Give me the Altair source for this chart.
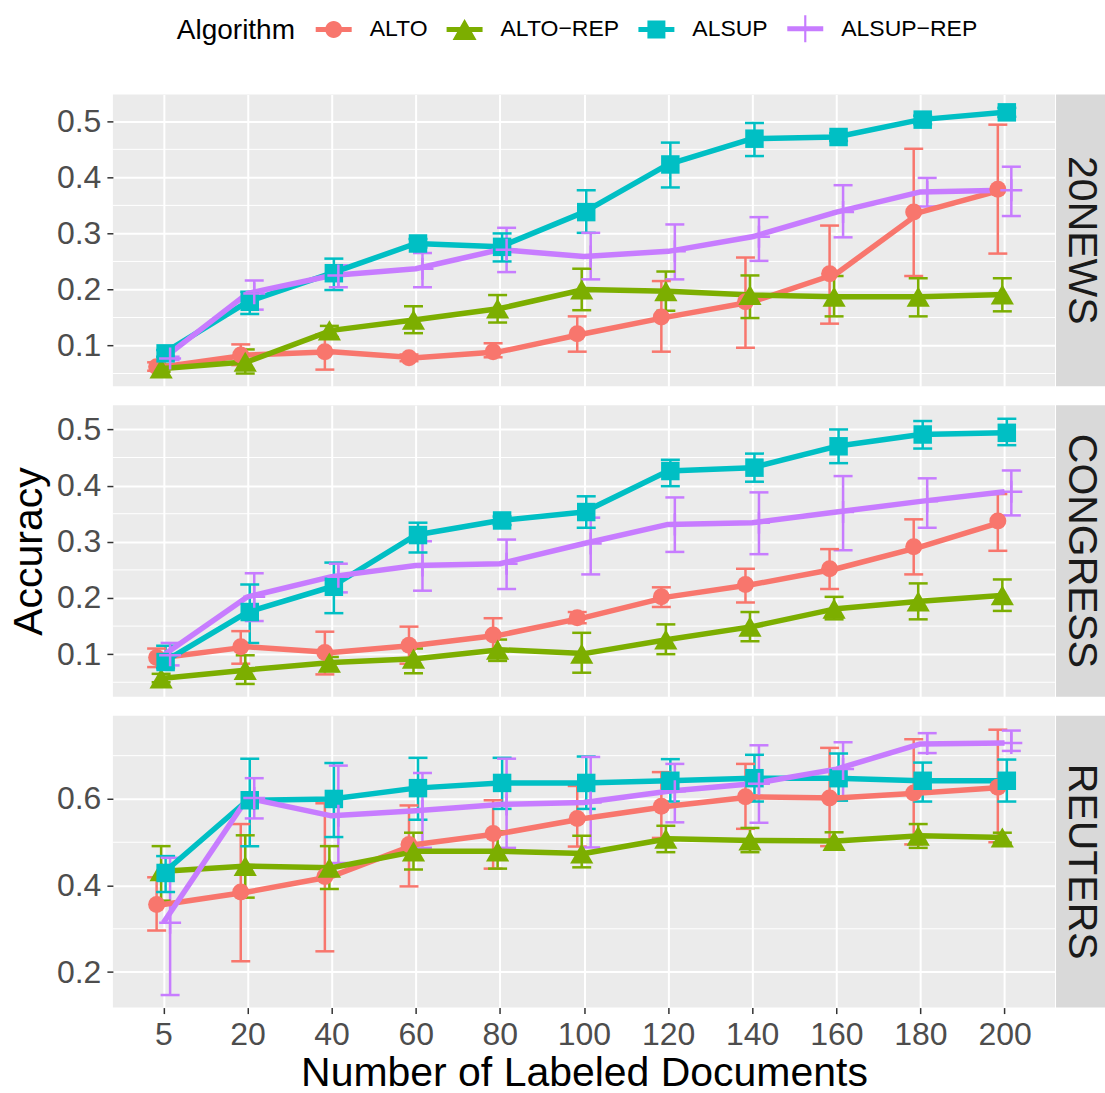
import altair as alt
import pandas as pd

# ---------------- data ----------------
N_DOCS = [5, 20, 40, 60, 80, 100, 120, 140, 160, 180, 200]
ALGOS = ["ALTO", "ALTO\u2212REP", "ALSUP", "ALSUP\u2212REP"]
COLORS = ["#F8766D", "#7CAE00", "#00BFC4", "#C77CFF"]
PANELS = ["20NEWS", "CONGRESS", "REUTERS"]

# 20NEWS
NEWS_ALTO = [0.062, 0.083, 0.089, 0.078, 0.089, 0.121, 0.151, 0.178, 0.228, 0.338, 0.379]
NEWS_ALTO_LO = [0.055, 0.065, 0.057, 0.072, 0.079, 0.089, 0.089, 0.096, 0.139, 0.224, 0.264]
NEWS_ALTO_HI = [0.070, 0.102, 0.120, 0.084, 0.104, 0.152, 0.215, 0.257, 0.314, 0.451, 0.494]
NEWS_ALTOREP = [0.059, 0.071, 0.127, 0.146, 0.166, 0.200, 0.197, 0.190, 0.187, 0.187, 0.191]
NEWS_ALTOREP_LO = [0.053, 0.050, 0.115, 0.122, 0.141, 0.163, 0.162, 0.149, 0.152, 0.152, 0.161]
NEWS_ALTOREP_HI = [0.066, 0.093, 0.135, 0.170, 0.190, 0.237, 0.232, 0.225, 0.224, 0.220, 0.220]
NEWS_ALSUP = [0.086, 0.178, 0.229, 0.282, 0.276, 0.338, 0.423, 0.469, 0.472, 0.503, 0.516]
NEWS_ALSUP_LO = [0.080, 0.156, 0.199, 0.275, 0.250, 0.301, 0.382, 0.438, 0.465, 0.495, 0.508]
NEWS_ALSUP_HI = [0.092, 0.196, 0.255, 0.290, 0.300, 0.377, 0.462, 0.497, 0.479, 0.510, 0.524]
NEWS_ALSUPREP = [0.077, 0.193, 0.225, 0.237, 0.271, 0.259, 0.268, 0.294, 0.338, 0.374, 0.377]
NEWS_ALSUPREP_LO = [0.074, 0.164, 0.204, 0.204, 0.231, 0.218, 0.218, 0.251, 0.293, 0.348, 0.331]
NEWS_ALSUPREP_HI = [0.080, 0.216, 0.243, 0.265, 0.310, 0.301, 0.316, 0.329, 0.386, 0.399, 0.419]

# CONGRESS
CONG_ALTO = [0.094, 0.113, 0.103, 0.116, 0.134, 0.165, 0.202, 0.224, 0.252, 0.291, 0.337]
CONG_ALTO_LO = [0.077, 0.083, 0.064, 0.083, 0.107, 0.155, 0.184, 0.192, 0.216, 0.242, 0.284]
CONG_ALTO_HI = [0.110, 0.141, 0.140, 0.149, 0.164, 0.175, 0.219, 0.252, 0.287, 0.340, 0.385]
CONG_ALTOREP = [0.057, 0.072, 0.085, 0.092, 0.108, 0.101, 0.126, 0.149, 0.181, 0.194, 0.205]
CONG_ALTOREP_LO = [0.050, 0.047, 0.070, 0.066, 0.088, 0.067, 0.100, 0.123, 0.162, 0.162, 0.177]
CONG_ALTOREP_HI = [0.065, 0.098, 0.095, 0.110, 0.126, 0.138, 0.153, 0.175, 0.202, 0.226, 0.233]
CONG_ALSUP = [0.086, 0.175, 0.220, 0.312, 0.338, 0.353, 0.426, 0.432, 0.470, 0.491, 0.494]
CONG_ALSUP_LO = [0.075, 0.120, 0.173, 0.281, 0.330, 0.325, 0.399, 0.407, 0.440, 0.466, 0.472]
CONG_ALSUP_HI = [0.115, 0.224, 0.263, 0.334, 0.345, 0.381, 0.446, 0.457, 0.500, 0.515, 0.519]
CONG_ALSUPREP = [0.098, 0.202, 0.238, 0.258, 0.261, 0.297, 0.331, 0.334, 0.353, 0.372, 0.389]
CONG_ALSUPREP_LO = [0.080, 0.159, 0.210, 0.213, 0.216, 0.242, 0.282, 0.278, 0.285, 0.325, 0.347]
CONG_ALSUPREP_HI = [0.120, 0.244, 0.261, 0.301, 0.304, 0.343, 0.379, 0.388, 0.417, 0.413, 0.427]

# REUTERS
REUT_ALTO = [0.356, 0.385, 0.421, 0.495, 0.520, 0.555, 0.583, 0.605, 0.602, 0.614, 0.627]
REUT_ALTO_LO = [0.296, 0.225, 0.248, 0.398, 0.439, 0.490, 0.510, 0.531, 0.491, 0.495, 0.500]
REUT_ALTO_HI = [0.419, 0.542, 0.590, 0.585, 0.597, 0.630, 0.662, 0.681, 0.718, 0.738, 0.760]
REUT_ALTOREP = [0.433, 0.445, 0.441, 0.479, 0.479, 0.474, 0.508, 0.504, 0.503, 0.515, 0.511]
REUT_ALTOREP_LO = [0.365, 0.372, 0.392, 0.437, 0.439, 0.442, 0.477, 0.477, 0.483, 0.487, 0.499]
REUT_ALTOREP_HI = [0.491, 0.516, 0.491, 0.522, 0.525, 0.515, 0.538, 0.533, 0.523, 0.542, 0.522]
REUT_ALSUP = [0.429, 0.597, 0.600, 0.625, 0.637, 0.637, 0.642, 0.648, 0.648, 0.642, 0.642]
REUT_ALSUP_LO = [0.385, 0.491, 0.512, 0.552, 0.577, 0.577, 0.594, 0.594, 0.596, 0.594, 0.594]
REUT_ALSUP_HI = [0.468, 0.693, 0.683, 0.695, 0.695, 0.698, 0.692, 0.702, 0.705, 0.684, 0.691]
REUT_ALSUPREP = [0.314, 0.602, 0.561, 0.573, 0.587, 0.592, 0.618, 0.635, 0.669, 0.727, 0.729]
REUT_ALSUPREP_LO = [0.147, 0.555, 0.452, 0.487, 0.487, 0.488, 0.546, 0.545, 0.605, 0.706, 0.711]
REUT_ALSUPREP_HI = [0.464, 0.648, 0.677, 0.660, 0.693, 0.697, 0.681, 0.724, 0.731, 0.752, 0.758]

SERIES = {
    "20NEWS": [
        (NEWS_ALTO, NEWS_ALTO_LO, NEWS_ALTO_HI),
        (NEWS_ALTOREP, NEWS_ALTOREP_LO, NEWS_ALTOREP_HI),
        (NEWS_ALSUP, NEWS_ALSUP_LO, NEWS_ALSUP_HI),
        (NEWS_ALSUPREP, NEWS_ALSUPREP_LO, NEWS_ALSUPREP_HI),
    ],
    "CONGRESS": [
        (CONG_ALTO, CONG_ALTO_LO, CONG_ALTO_HI),
        (CONG_ALTOREP, CONG_ALTOREP_LO, CONG_ALTOREP_HI),
        (CONG_ALSUP, CONG_ALSUP_LO, CONG_ALSUP_HI),
        (CONG_ALSUPREP, CONG_ALSUPREP_LO, CONG_ALSUPREP_HI),
    ],
    "REUTERS": [
        (REUT_ALTO, REUT_ALTO_LO, REUT_ALTO_HI),
        (REUT_ALTOREP, REUT_ALTOREP_LO, REUT_ALTOREP_HI),
        (REUT_ALSUP, REUT_ALSUP_LO, REUT_ALSUP_HI),
        (REUT_ALSUPREP, REUT_ALSUPREP_LO, REUT_ALSUPREP_HI),
    ],
}

Y_DOMAINS = {"20NEWS": [0.0275, 0.548], "CONGRESS": [0.024, 0.5433], "REUTERS": [0.118, 0.792]}
Y_TICKS = {"20NEWS": [0.1, 0.2, 0.3, 0.4, 0.5], "CONGRESS": [0.1, 0.2, 0.3, 0.4, 0.5],
           "REUTERS": [0.2, 0.4, 0.6]}
Y_MINOR = {"20NEWS": [0.05, 0.15, 0.25, 0.35, 0.45], "CONGRESS": [0.05, 0.15, 0.25, 0.35, 0.45],
           "REUTERS": [0.3, 0.5, 0.7]}

rows = []
for p in PANELS:
    for alg, (m, lo, hi) in zip(ALGOS, SERIES[p]):
        for n, a, b, c in zip(N_DOCS, m, lo, hi):
            rows.append({"panel": p, "alg": alg, "n": n, "mean": a, "lo": b, "hi": c})
df = pd.DataFrame(rows)

# ---------------- styling ----------------
FONT = "Liberation Sans"
W, H = 943, 292
BAR = "M-1,-0.14H1V0.14H-1Z "
LEGEND_SHAPES = [
    BAR + "M0.47,0A0.47,0.47 0 1,1 -0.47,0A0.47,0.47 0 1,1 0.47,0Z",
    BAR + "M0,-0.58L0.667,0.58L-0.667,0.58Z",
    BAR + "M-0.5,-0.5H0.5V0.5H-0.5Z",
    BAR + "M-0.06,-0.75H0.06V0.75H-0.06Z",
]
POINT_STYLE = [
    dict(shape="circle", size=289, filled=True),
    dict(shape="triangle-up", size=540, filled=True),
    dict(shape="square", size=342, filled=True),
    dict(shape="M-1,0H1M0,-1V1", size=484, filled=False, strokeWidth=2.5),
]

color_scale = alt.Scale(domain=ALGOS, range=COLORS)
off_scale = alt.Scale(type="point", domain=ALGOS, range=[-6.75, 6.75], padding=0)


def panel(name, bottom, middle, with_legend):
    d = df[df.panel == name]
    if bottom:
        x_axis = alt.Axis(values=N_DOCS, labelAngle=0, labelFontSize=32, labelColor="#4D4D4D",
                          labelFont=FONT, tickSize=6, tickWidth=1.5, tickColor="#333333",
                          labelPadding=6, domain=False, grid=True, gridColor="white",
                          gridWidth=2, title="Number of Labeled Documents", titleFontSize=41,
                          titleFont=FONT, titleFontWeight="normal", titleColor="black",
                          titlePadding=3)
    else:
        x_axis = alt.Axis(values=N_DOCS, labels=False, ticks=False, domain=False, grid=True,
                          gridColor="white", gridWidth=2, title=None)
    y_axis = alt.Axis(values=Y_TICKS[name], format=".1f", labelFontSize=32,
                      labelColor="#4D4D4D", labelFont=FONT, tickSize=6, tickWidth=1.5,
                      tickColor="#333333", labelPadding=6, domain=False, grid=True,
                      gridColor="white", gridWidth=2,
                      title="Accuracy" if middle else None, titleFontSize=41, titleFont=FONT,
                      titleFontWeight="normal", titleColor="black", titlePadding=6)
    xs = alt.Scale(type="point", domain=N_DOCS, padding=0.6)
    ys = alt.Scale(domain=Y_DOMAINS[name], nice=False, zero=False)

    def X():
        return alt.X("n:O", scale=xs, axis=x_axis)

    def Y(f):
        return alt.Y(f, scale=ys, axis=y_axis, type="quantitative")

    XO = alt.XOffset("alg:N", scale=off_scale)
    C = alt.Color("alg:N", scale=color_scale, legend=None)

    base = alt.Chart(d)
    layers = []
    if with_legend:
        leg = alt.Legend(title="Algorithm", orient="none", direction="horizontal",
                         legendX=64, legendY=-84, titleOrient="left", titleAnchor="middle",
                         titleBaseline="line-top", titleLineHeight=10, titleFontSize=28,
                         titleFont=FONT, titleFontWeight="normal", titleColor="black",
                         titlePadding=20, labelFontSize=23, labelFont=FONT, labelColor="black",
                         labelOffset=18, columnPadding=19, symbolSize=1296,
                         symbolStrokeWidth=0, symbolOpacity=1)
        layers.append(
            alt.Chart(pd.DataFrame({"alg": ALGOS, "v": [0.3] * 4})).transform_filter("false")
            .mark_point(filled=True, opacity=1)
            .encode(y=Y("v"),
                    color=alt.Color("alg:N", scale=color_scale, legend=leg),
                    shape=alt.Shape("alg:N", scale=alt.Scale(domain=ALGOS, range=LEGEND_SHAPES),
                                    legend=leg))
        )
    minor = alt.Chart(pd.DataFrame({"m": Y_MINOR[name]})).mark_rule(
        color="white", strokeWidth=1).encode(y=Y("m"))
    err = base.mark_rule(strokeWidth=2.5).encode(x=X(), xOffset=XO, y=Y("lo"), y2="hi", color=C)
    cap_lo = base.mark_tick(size=19, thickness=2.5, opacity=1).encode(
        x=X(), xOffset=XO, y=Y("lo"), color=C)
    cap_hi = base.mark_tick(size=19, thickness=2.5, opacity=1).encode(
        x=X(), xOffset=XO, y=Y("hi"), color=C)
    line = base.mark_line(strokeWidth=5.5, strokeJoin="round").encode(
        x=X(), y=Y("mean"), color=C)
    layers += [minor, err, cap_lo, cap_hi, line]
    for alg, st in zip(ALGOS, POINT_STYLE):
        layers.append(
            base.transform_filter(alt.datum.alg == alg)
            .mark_point(opacity=1, **st)
            .encode(x=X(), xOffset=XO, y=Y("mean"), color=C)
        )
    strip_df = pd.DataFrame({"panel": [name]})
    strip = alt.Chart(strip_df).mark_rect(color="#D9D9D9").encode(
        x=alt.value(944), x2=alt.value(993), y=alt.value(0), y2=alt.value(H))
    strip_txt = alt.Chart(strip_df).mark_text(angle=90, fontSize=41, font=FONT, color="#1A1A1A",
                                              align="center", baseline="middle").encode(
        x=alt.value(968.5), y=alt.value(H / 2), text="panel:N")
    layers += [strip, strip_txt]
    return alt.layer(*layers).properties(width=W, height=H)


chart = alt.vconcat(
    panel("20NEWS", False, False, True),
    panel("CONGRESS", False, True, False),
    panel("REUTERS", True, False, False),
    spacing=19,
).resolve_scale(color="shared", y="independent").properties(
    padding={"left": 8, "top": 10, "right": 0, "bottom": 0}
).configure(font=FONT, background="white").configure_view(
    fill="#EBEBEB", strokeWidth=0, stroke="transparent")

chart.save("out.html", embed_options={"renderer": "svg", "actions": False})
